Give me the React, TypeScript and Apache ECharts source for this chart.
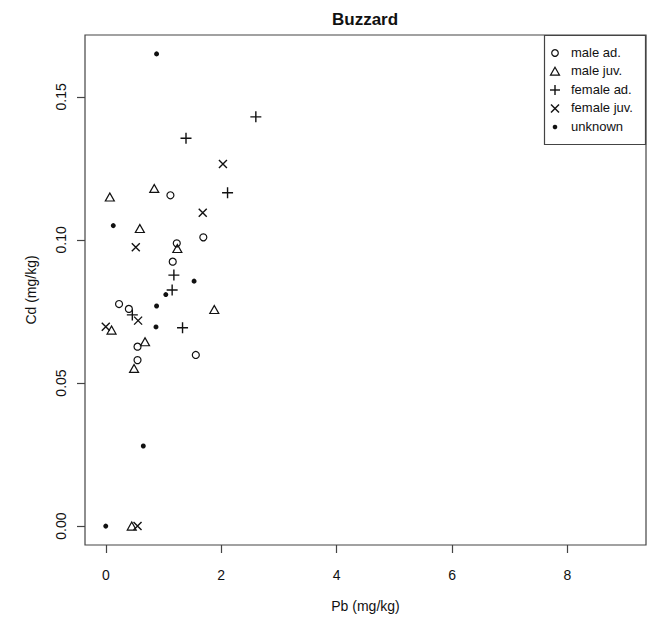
import React, { useEffect, useRef } from "react";
import * as echarts from "echarts";

const FONT = "'Liberation Sans', Arial, Helvetica, sans-serif";

const titleText = "Buzzard";
const xName = "Pb (mg/kg)";
const yName = "Cd (mg/kg)";
const xTicks = [0, 2, 4, 6, 8];
const yTicks = [0, 0.05, 0.1, 0.15];
const xRange = [-0.36, 9.36];
const yRange = [-0.0066, 0.1716];

const groupNames = ["male ad.", "male juv.", "female ad.", "female juv.", "unknown"];

const maleAdPb = [1.12, 1.69, 1.23, 1.16, 0.23, 0.4, 0.55, 1.56, 0.55];
const maleAdCd = [0.1156, 0.1009, 0.0988, 0.0924, 0.0776, 0.0759, 0.0627, 0.0598, 0.058];

const maleJuvPb = [0.07, 0.84, 0.59, 1.24, 1.88, 0.1, 0.68, 0.49, 0.45];
const maleJuvCd = [0.115, 0.118, 0.104, 0.097, 0.0757, 0.0685, 0.0644, 0.0551, 0.0];

const femaleAdPb = [2.6, 1.39, 2.11, 1.18, 1.15, 0.46, 1.33];
const femaleAdCd = [0.143, 0.1355, 0.1165, 0.0877, 0.0825, 0.0738, 0.0693];

const femaleJuvPb = [2.03, 1.68, 0.52, 0.56, 0.0, 0.55];
const femaleJuvCd = [0.1265, 0.1095, 0.0974, 0.0718, 0.0697, 0.0];

const unknownPb = [0.88, 0.13, 1.53, 1.04, 0.88, 0.87, 0.65, 0.0];
const unknownCd = [0.165, 0.105, 0.0856, 0.0809, 0.0769, 0.0696, 0.028, 0.0];

const zip = (xs: number[], ys: number[]) => xs.map((x, i) => [x, ys[i]]);

const PLUS = "path://M0,5L10,5M5,0L5,10";
const CROSS = "path://M0,0L10,10M0,10L10,0";

const INK = "#111";

export default function App() {
  const ref = useRef<HTMLDivElement>(null);
  useEffect(() => {
    if (!ref.current) return;
    const chart = echarts.init(ref.current, undefined, { renderer: "svg" });
    const openStyle = { color: "rgba(0,0,0,0)", borderColor: INK, borderWidth: 1.2, opacity: 1 };
    const lineStyleMarker = { color: "rgba(0,0,0,0)", borderColor: INK, borderWidth: 1.4, opacity: 1 };

    const lx = 555;
    const ly0 = 53;
    const lstep = 18.5;
    const legendText = groupNames.map((n, i) => ({
      type: "text",
      left: 571,
      top: ly0 + i * lstep - 7.5,
      style: { text: n, font: `13px ${FONT}`, fill: INK },
      silent: true,
    }));
    const legendGraphics: any[] = [
      {
        type: "rect",
        shape: { x: 544.5, y: 35.5, width: 101, height: 109 },
        style: { fill: "#fff", stroke: "#444", lineWidth: 1.2 },
        z: 10,
      },
      {
        type: "circle",
        shape: { cx: lx, cy: ly0, r: 3.3 },
        style: { fill: "none", stroke: INK, lineWidth: 1.2 },
        z: 11,
      },
      {
        type: "polygon",
        shape: { points: [[lx, ly0 + lstep - 4.2], [lx + 4.5, ly0 + lstep + 3.6], [lx - 4.5, ly0 + lstep + 3.6]] },
        style: { fill: "none", stroke: INK, lineWidth: 1.2 },
        z: 11,
      },
      {
        type: "line",
        shape: { x1: lx - 5, y1: ly0 + 2 * lstep, x2: lx + 5, y2: ly0 + 2 * lstep },
        style: { stroke: INK, lineWidth: 1.4 },
        z: 11,
      },
      {
        type: "line",
        shape: { x1: lx, y1: ly0 + 2 * lstep - 5, x2: lx, y2: ly0 + 2 * lstep + 5 },
        style: { stroke: INK, lineWidth: 1.4 },
        z: 11,
      },
      {
        type: "line",
        shape: { x1: lx - 4, y1: ly0 + 3 * lstep - 4, x2: lx + 4, y2: ly0 + 3 * lstep + 4 },
        style: { stroke: INK, lineWidth: 1.4 },
        z: 11,
      },
      {
        type: "line",
        shape: { x1: lx - 4, y1: ly0 + 3 * lstep + 4, x2: lx + 4, y2: ly0 + 3 * lstep - 4 },
        style: { stroke: INK, lineWidth: 1.4 },
        z: 11,
      },
      {
        type: "circle",
        shape: { cx: lx, cy: ly0 + 4 * lstep, r: 2.3 },
        style: { fill: INK, stroke: "none" },
        z: 11,
      },
      ...legendText.map((t) => ({ ...t, z: 11 })),
    ];

    chart.setOption({
      animation: false,
      backgroundColor: "#fff",
      textStyle: { fontFamily: FONT, color: INK },
      title: {
        text: titleText,
        left: 332,
        top: 11,
        padding: 0,
        textStyle: { fontFamily: FONT, fontSize: 17, fontWeight: "bold", color: INK },
      },
      grid: {
        left: 85,
        top: 35,
        right: 3,
        bottom: 73,
        show: true,
        borderColor: "#444",
        borderWidth: 1.2,
        backgroundColor: "transparent",
      },
      xAxis: {
        type: "value",
        min: xRange[0],
        max: xRange[1],
        name: xName,
        nameLocation: "middle",
        nameGap: 54,
        nameTextStyle: { fontFamily: FONT, fontSize: 14, color: INK },
        axisLine: { show: false, onZero: false },
        splitLine: { show: false },
        axisTick: {
          show: true,
          length: 8,
          customValues: xTicks,
          lineStyle: { color: "#444", width: 1.2 },
        },
        axisLabel: {
          customValues: xTicks,
          margin: 23,
          fontFamily: FONT,
          fontSize: 14,
          color: INK,
          formatter: (v: number) => String(v),
        },
      },
      yAxis: {
        type: "value",
        min: yRange[0],
        max: yRange[1],
        name: yName,
        nameLocation: "middle",
        nameGap: 47,
        nameRotate: 90,
        nameTextStyle: { fontFamily: FONT, fontSize: 14, color: INK },
        axisLine: { show: false, onZero: false },
        splitLine: { show: false },
        axisTick: {
          show: true,
          length: 8,
          customValues: yTicks,
          lineStyle: { color: "#444", width: 1.2 },
        },
        axisLabel: {
          customValues: yTicks,
          rotate: 90,
          margin: 17,
          fontFamily: FONT,
          fontSize: 14,
          color: INK,
          formatter: (v: number) => v.toFixed(2),
        },
      },
      series: [
        {
          name: groupNames[0],
          type: "scatter",
          symbol: "circle",
          symbolSize: 7,
          itemStyle: openStyle,
          data: zip(maleAdPb, maleAdCd),
        },
        {
          name: groupNames[1],
          type: "scatter",
          symbol: "triangle",
          symbolSize: [9, 8],
          itemStyle: openStyle,
          data: zip(maleJuvPb, maleJuvCd),
        },
        {
          name: groupNames[2],
          type: "scatter",
          symbol: PLUS,
          symbolSize: 11,
          itemStyle: lineStyleMarker,
          data: zip(femaleAdPb, femaleAdCd),
        },
        {
          name: groupNames[3],
          type: "scatter",
          symbol: CROSS,
          symbolSize: 8,
          itemStyle: lineStyleMarker,
          data: zip(femaleJuvPb, femaleJuvCd),
        },
        {
          name: groupNames[4],
          type: "scatter",
          symbol: "circle",
          symbolSize: 5,
          itemStyle: { color: INK, opacity: 1 },
          data: zip(unknownPb, unknownCd),
        },
      ],
      graphic: legendGraphics,
    });
    return () => chart.dispose();
  }, []);
  return (
    <div
      ref={ref}
      style={{ position: "absolute", left: 0, top: 0, width: 649, height: 618 }}
    />
  );
}
